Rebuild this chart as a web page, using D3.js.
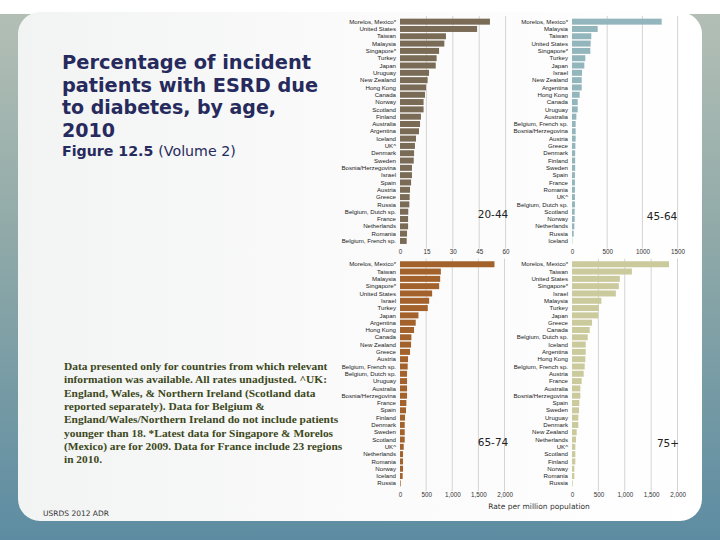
<!DOCTYPE html>
<html>
<head>
<meta charset="utf-8">
<script src="https://cdn.jsdelivr.net/npm/d3@7"></script>
<style>
  body { margin: 0; background: #fff; }
  svg { display: block; }
</style>
</head>
<body>
<div id="chart"></div>
<script>
// 20-44
var countries2044 = ["Morelos, Mexico*","United States","Taiwan","Malaysia","Singapore*","Turkey","Japan","Uruguay","New Zealand","Hong Kong","Canada","Norway","Scotland","Finland","Australia","Argentina","Iceland","UK^","Denmark","Sweden","Bosnia/Herzegovina","Israel","Spain","Austria","Greece","Russia","Belgium, Dutch sp.","France","Netherlands","Romania","Belgium, French sp."];
var values2044 = [51.1,43.8,26.1,25.2,22.2,20.8,20.3,16.5,15.7,14.8,14.2,13.4,13.4,11.9,11.4,10.8,9.1,8.5,8.0,7.8,6.8,6.8,6.3,5.7,5.5,5.3,4.7,4.6,4.6,4.0,3.8];

// 45-64
var countries4564 = ["Morelos, Mexico*","Malaysia","Taiwan","United States","Singapore*","Turkey","Japan","Israel","New Zealand","Argentina","Hong Kong","Canada","Uruguay","Australia","Belgium, French sp.","Bosnia/Herzegovina","Austria","Greece","Denmark","Finland","Sweden","Spain","France","Romania","UK^","Belgium, Dutch sp.","Scotland","Norway","Netherlands","Russia","Iceland"];
var values4564 = [1274,365,274,265,260,189,175,142,138,138,109,81,81,62,52,52,52,48,45,45,45,42,42,42,42,42,38,38,33,24,4];

// 65-74
var countries6574 = ["Morelos, Mexico*","Taiwan","Malaysia","Singapore*","United States","Israel","Turkey","Japan","Argentina","Hong Kong","Canada","New Zealand","Greece","Austria","Belgium, French sp.","Belgium, Dutch sp.","Uruguay","Australia","Bosnia/Herzegovina","France","Spain","Finland","Denmark","Sweden","Scotland","UK^","Netherlands","Romania","Norway","Iceland","Russia"];
var values6574 = [1808,782,769,750,615,558,532,353,301,269,218,212,192,154,147,135,135,135,135,122,115,96,90,90,90,71,58,58,58,51,13];

// 75+
var countries75 = ["Morelos, Mexico*","Taiwan","United States","Singapore*","Israel","Malaysia","Turkey","Japan","Greece","Canada","Belgium, Dutch sp.","Iceland","Argentina","Hong Kong","Belgium, French sp.","Austria","France","Australia","Bosnia/Herzegovina","Spain","Sweden","Uruguay","Denmark","New Zealand","Netherlands","UK^","Scotland","Finland","Norway","Romania","Russia"];
var values75 = [1838,1135,907,888,831,557,507,494,380,336,298,260,260,253,241,222,184,158,158,139,133,120,120,89,76,63,63,63,44,44,13];

var ticks2044 = [0,15,30,45,60];
var ticks4564 = [0,500,1000,1500];
var ticksOld = [0,500,1000,1500,2000];

var titleLines = ["Percentage of incident","patients with ESRD due","to diabetes, by age,","2010"];
var titleWidths = [249, 256, 214, 53];
var noteLines = [
  "Data presented only for countries from which relevant",
  "information was available. All rates unadjusted. ^UK:",
  "England, Wales, & Northern Ireland (Scotland data",
  "reported separately). Data for Belgium &",
  "England/Wales/Northern Ireland do not include patients",
  "younger than 18. *Latest data for Singapore & Morelos",
  "(Mexico) are for 2009. Data for France include 23 regions",
  "in 2010."
];

var width = 720, height = 540;

var svg = d3.select("#chart").append("svg")
  .attr("width", width)
  .attr("height", height);

// slide background
var defs = svg.append("defs");
var bg = defs.append("linearGradient").attr("id", "bg")
  .attr("x1", 0).attr("y1", 0).attr("x2", 0).attr("y2", 1);
bg.append("stop").attr("offset", "0%").attr("stop-color", "#b5c0b6");
bg.append("stop").attr("offset", "45%").attr("stop-color", "#8fa9a8");
bg.append("stop").attr("offset", "100%").attr("stop-color", "#5d8ca2");

svg.append("rect").attr("width", width).attr("height", height).attr("fill", "url(#bg)");
svg.append("rect").attr("width", width).attr("height", 14).attr("fill", "#ffffff");

var pg = defs.append("linearGradient").attr("id", "panel")
  .attr("x1", 0).attr("y1", 0).attr("x2", 1).attr("y2", 0);
pg.append("stop").attr("offset", "0%").attr("stop-color", "#f2f3f3");
pg.append("stop").attr("offset", "45%").attr("stop-color", "#fafafa");
pg.append("stop").attr("offset", "100%").attr("stop-color", "#ffffff");

svg.append("rect")
  .attr("x", 18).attr("y", 12)
  .attr("width", 684).attr("height", 509)
  .attr("rx", 22).attr("ry", 22)
  .attr("fill", "url(#panel)");

// title
var title = svg.append("text")
  .attr("font-family", "'DejaVu Sans', sans-serif")
  .attr("font-weight", "bold")
  .attr("font-size", 19)
  .attr("fill", "#262a5c");
titleLines.forEach(function (t, i) {
  title.append("tspan")
    .attr("x", 62).attr("y", 69 + i * 22.7)
    .attr("textLength", titleWidths[i])
    .attr("lengthAdjust", "spacingAndGlyphs")
    .text(t);
});

var fig = svg.append("text")
  .attr("x", 62).attr("y", 156)
  .attr("font-family", "'DejaVu Sans', sans-serif")
  .attr("font-size", 14.2)
  .attr("fill", "#262a5c");
fig.append("tspan").attr("font-weight", "bold").text("Figure 12.5 ");
fig.append("tspan").text("(Volume 2)");

// notes
var note = svg.append("text")
  .attr("font-family", "'Liberation Serif', 'DejaVu Serif', serif")
  .attr("font-weight", "bold")
  .attr("font-size", 11.4)
  .attr("fill", "#3c4820");
noteLines.forEach(function (t, i) {
  note.append("tspan").attr("x", 64).attr("y", 370 + i * 13.3).text(t);
});

svg.append("text")
  .attr("x", 43).attr("y", 516)
  .attr("font-family", "'DejaVu Sans', sans-serif")
  .attr("font-size", 7.5)
  .attr("fill", "#333")
  .text("USRDS 2012 ADR");

// panels
function drawPanel(opt) {
  var x = d3.scaleLinear().domain([0, opt.max]).range([opt.x0, opt.x1]);
  var y = d3.scaleBand().domain(opt.cats).range([opt.y0, opt.y1]).paddingInner(0.18).paddingOuter(0.09);

  var g = svg.append("g");

  // gridlines
  g.selectAll(".grid")
    .data(opt.ticks.filter(function (d) { return d > 0; }))
    .enter()
    .append("line")
    .attr("x1", function (d) { return x(d); })
    .attr("x2", function (d) { return x(d); })
    .attr("y1", opt.y0 - 2)
    .attr("y2", opt.y1 + 4)
    .attr("stroke", "#d4d4d4")
    .attr("stroke-width", 1);

  g.selectAll(".bar")
    .data(opt.vals)
    .enter()
    .append("rect")
    .attr("x", x(0))
    .attr("y", function (d, i) { return y(opt.cats[i]); })
    .attr("width", function (d) { return x(d) - x(0); })
    .attr("height", y.bandwidth())
    .attr("fill", opt.color);

  g.selectAll(".lbl")
    .data(opt.cats)
    .enter()
    .append("text")
    .attr("x", x(0) - 4)
    .attr("y", function (d) { return y(d) + y.bandwidth() / 2; })
    .attr("dy", "0.35em")
    .attr("text-anchor", "end")
    .attr("font-family", "'Liberation Sans', Arial, sans-serif")
    .attr("font-size", 6.1)
    .attr("fill", "#222")
    .text(function (d) { return d; });

  var axis = d3.axisBottom(x)
    .tickValues(opt.ticks)
    .tickSize(0)
    .tickPadding(0)
    .tickFormat(function (d) { return opt.fmt(d); });

  var ag = g.append("g")
    .attr("transform", "translate(0," + opt.axisY + ")")
    .call(axis);
  ag.select(".domain").remove();
  ag.selectAll("text")
    .attr("font-family", "'Liberation Sans', Arial, sans-serif")
    .attr("font-size", 6.3)
    .attr("fill", "#333")
    .attr("dy", 0);

  g.append("text")
    .attr("x", opt.lx).attr("y", opt.ly)
    .attr("text-anchor", "middle")
    .attr("font-family", "'DejaVu Sans', sans-serif")
    .attr("font-size", 10.5)
    .attr("fill", "#222")
    .text(opt.label);
}

var plain = function (d) { return String(d); };
var comma = d3.format(",");

drawPanel({ cats: countries2044, vals: values2044, max: 60, ticks: ticks2044, fmt: plain,
  x0: 400, x1: 505.6, y0: 18, y1: 244.6, axisY: 254, color: "#7a6b56",
  label: "20-44", lx: 493, ly: 218 });
drawPanel({ cats: countries4564, vals: values4564, max: 1500, ticks: ticks4564, fmt: plain,
  x0: 572, x1: 677.6, y0: 18, y1: 244.6, axisY: 254, color: "#93b6bd",
  label: "45-64", lx: 662, ly: 220 });
drawPanel({ cats: countries6574, vals: values6574, max: 2000, ticks: ticksOld, fmt: comma,
  x0: 400, x1: 504.5, y0: 260.6, y1: 487, axisY: 497, color: "#a3622b",
  label: "65-74", lx: 493, ly: 446 });
drawPanel({ cats: countries75, vals: values75, max: 2000, ticks: ticksOld, fmt: comma,
  x0: 572, x1: 677.5, y0: 260.6, y1: 487, axisY: 497, color: "#cbca9c",
  label: "75+", lx: 668, ly: 447 });

svg.append("text")
  .attr("x", 539).attr("y", 509)
  .attr("text-anchor", "middle")
  .attr("font-family", "'DejaVu Sans', sans-serif")
  .attr("font-size", 7.5)
  .attr("fill", "#333")
  .text("Rate per million population");
</script>
</body>
</html>
